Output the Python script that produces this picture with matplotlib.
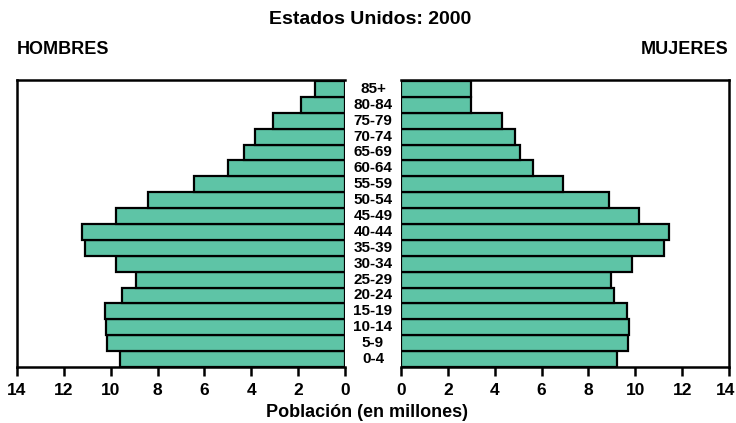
import matplotlib
matplotlib.use("Agg")
import matplotlib.pyplot as plt
import matplotlib.transforms as mtransforms
import numpy as np

plt.rcParams['font.family'] = ['Liberation Sans', 'DejaVu Sans']

age_groups = ["0-4", "5-9", "10-14", "15-19", "20-24", "25-29", "30-34", "35-39",
              "40-44", "45-49", "50-54", "55-59", "60-64", "65-69", "70-74",
              "75-79", "80-84", "85+"]
hombres = [9.62, 10.15, 10.22, 10.26, 9.51, 8.94, 9.76, 11.10, 11.23, 9.76,
           8.41, 6.43, 5.00, 4.32, 3.83, 3.06, 1.87, 1.27]
mujeres = [9.22, 9.71, 9.72, 9.66, 9.10, 8.98, 9.86, 11.21, 11.42, 10.17,
           8.89, 6.91, 5.63, 5.08, 4.85, 4.30, 3.00, 3.00]
x_ticks = [0, 2, 4, 6, 8, 10, 12, 14]

bar_color = "#5ec4a6"
W, H = 736, 423
fig = plt.figure(figsize=(W / 100, H / 100), dpi=100)

top, bottom = 80, 367
ax_l = fig.add_axes([17 / W, 1 - bottom / H, (345 - 17) / W, (bottom - top) / H])
ax_r = fig.add_axes([401 / W, 1 - bottom / H, (729 - 401) / W, (bottom - top) / H])

y = np.arange(len(age_groups))
for ax, vals in ((ax_l, hombres), (ax_r, mujeres)):
    ax.barh(y, vals, height=1.0, color=bar_color, edgecolor="black", linewidth=1.6)
    ax.set_xlim(0, 14)
    ax.set_ylim(-0.5, 17.56)
    ax.set_yticks([])
    ax.set_xticks(x_ticks)
    ax.set_xticklabels([str(t) for t in x_ticks], fontsize=12.5, fontweight="bold")
    ax.tick_params(axis="x", direction="out", length=6.5, width=1.8, pad=5)
    for s in ax.spines.values():
        s.set_linewidth(1.8)

ax_l.invert_xaxis()
ax_l.spines["right"].set_visible(False)
ax_r.spines["left"].set_visible(False)

# keep the outermost right tick label inside the figure
last = ax_r.get_xticklabels()[-1]
last.set_transform(last.get_transform() +
                   mtransforms.ScaledTranslation(-3 / 100, 0, fig.dpi_scale_trans))

# age group labels in the gap between the two halves
xc = 373 / W
for i, lab in enumerate(age_groups):
    yc = 1 - (bottom - (i + 0.5) * (bottom - top) / 18.06) / H
    fig.text(xc, yc, lab, ha="center", va="center", fontsize=11, fontweight="bold")

fig.text(370 / W, 1 - 20 / H, "Estados Unidos: 2000", ha="center", va="center",
         fontsize=14, fontweight="bold")
fig.text(17 / W, 1 - 49 / H, "HOMBRES", ha="left", va="center",
         fontsize=13, fontweight="bold")
fig.text(729 / W, 1 - 49 / H, "MUJERES", ha="right", va="center",
         fontsize=13, fontweight="bold")
fig.text(367 / W, 1 - 412 / H, "Población (en millones)", ha="center", va="center",
         fontsize=13, fontweight="bold")

fig.savefig("out.png", dpi=100)
